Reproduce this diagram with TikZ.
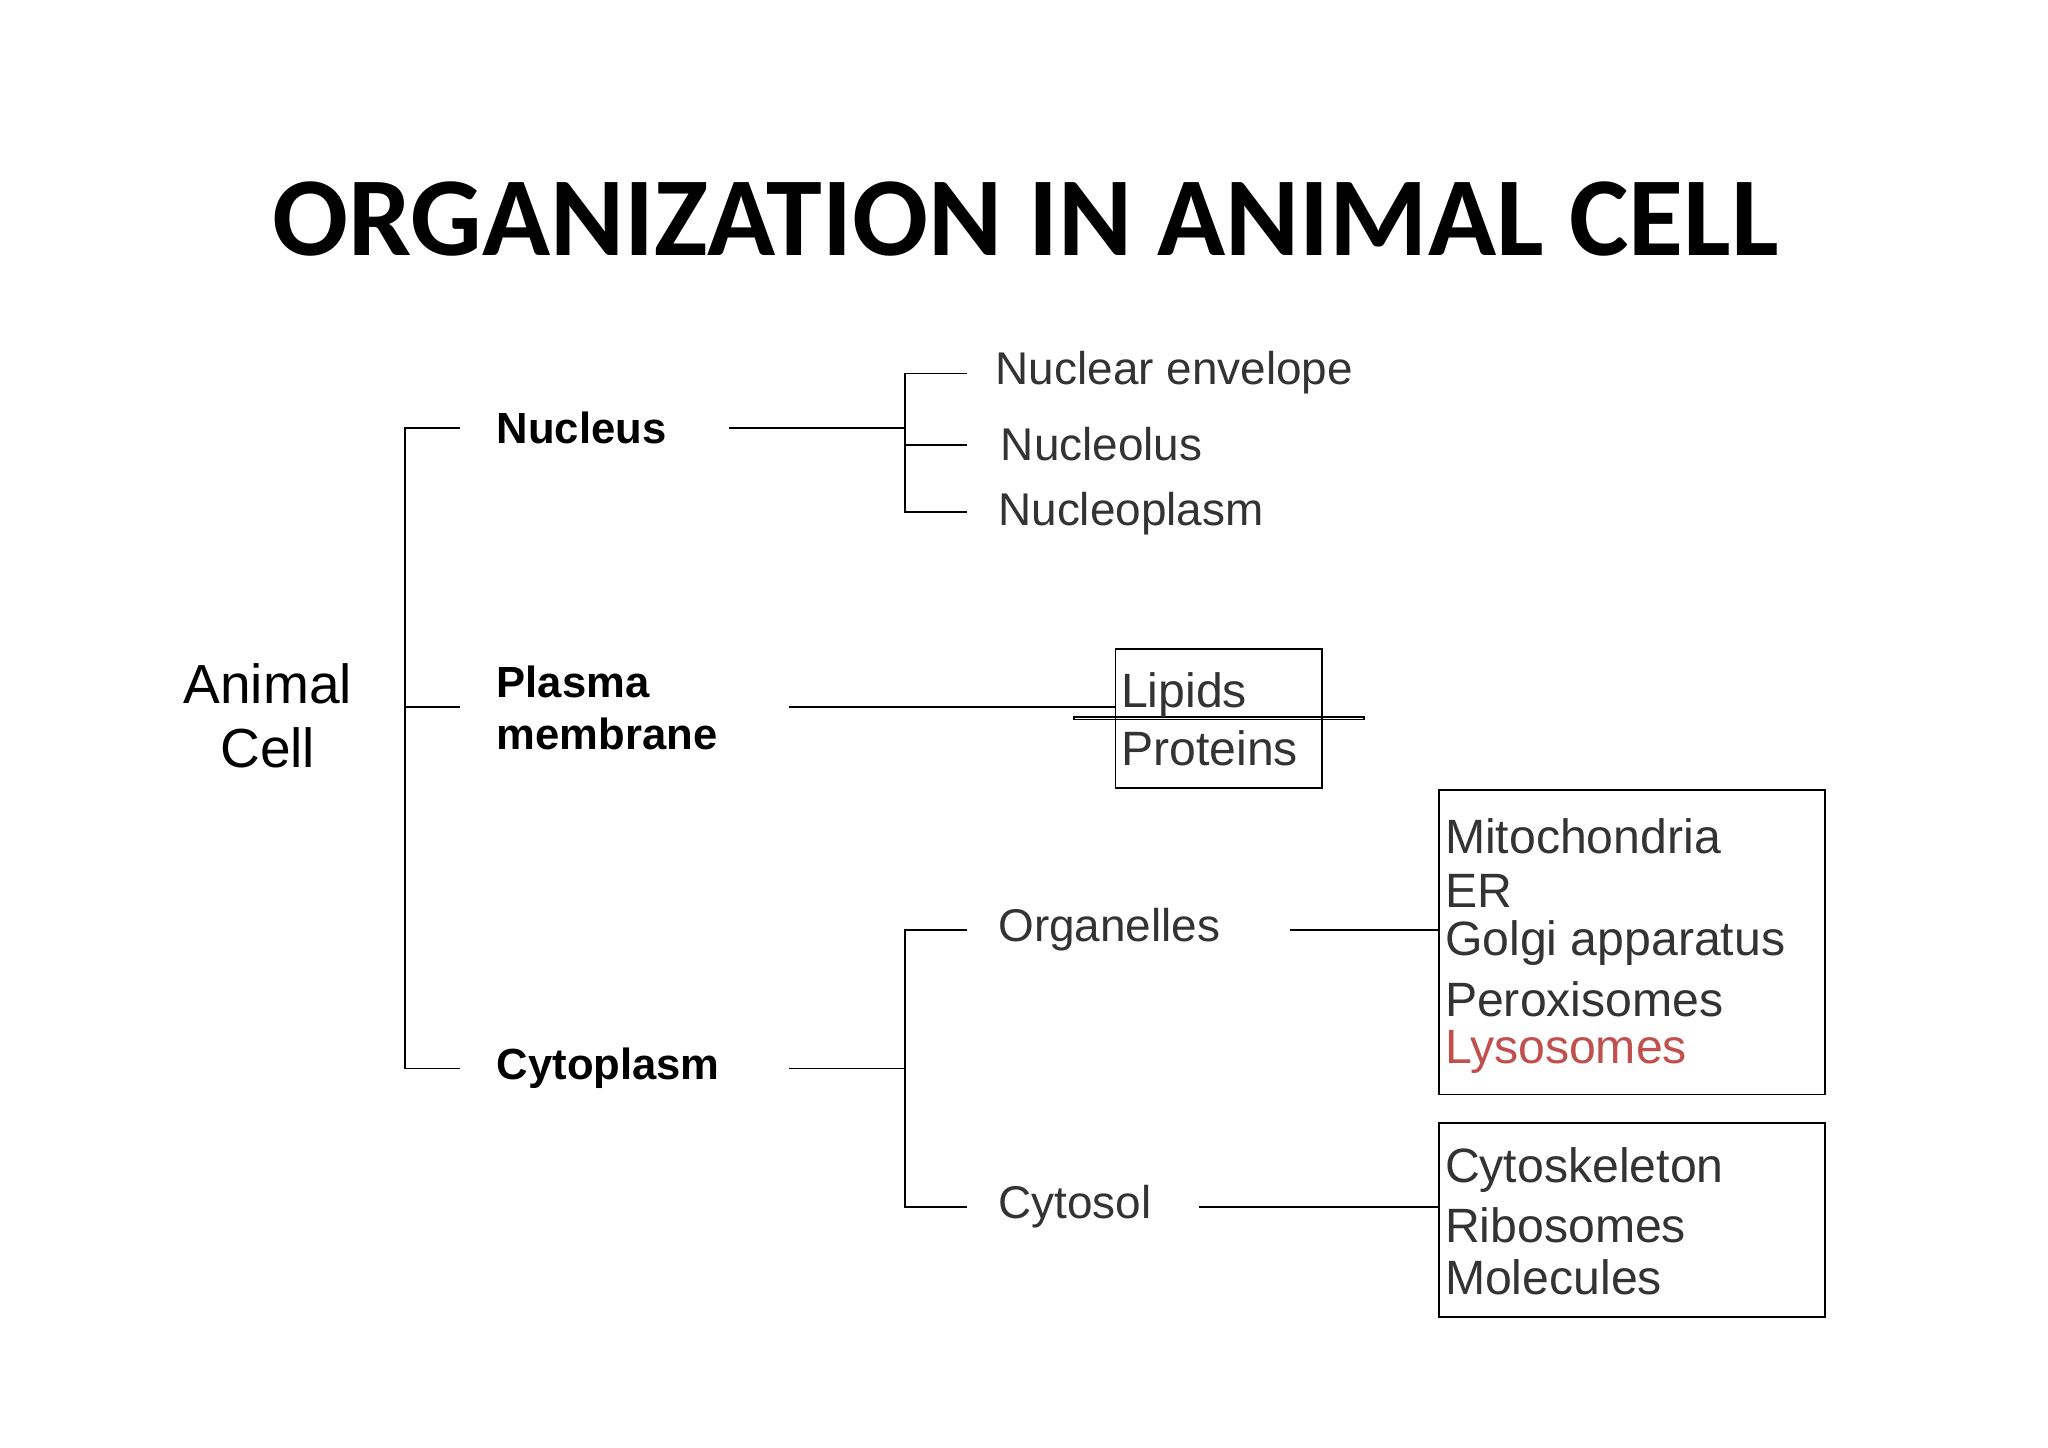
\documentclass[tikz,border=0pt]{standalone}
\usepackage{fontspec}
\setmainfont{Liberation Sans}
\newfontfamily\titlefont{Carlito}
\definecolor{lyso}{RGB}{192,80,77}
\begin{document}
\begin{tikzpicture}[x=0.02cm,y=-0.02cm,
  lbl/.style={anchor=west,inner sep=0pt,font=\fontsize{20}{22}\selectfont,text=black!80},
  blbl/.style={anchor=west,inner sep=0pt,font=\fontsize{19}{23}\selectfont\bfseries,align=left},
  bx/.style={draw,line width=0.8pt},
  ln/.style={line width=0.8pt}]
\useasboundingbox (0,0) rectangle (1568,1108);
\node (title) at (785,168) {\titlefont\bfseries\fontsize{49}{55}\selectfont ORGANIZATION IN ANIMAL CELL};
\node[align=center,font=\fontsize{24}{28}\selectfont,inner sep=0pt] (cell) at (205,548) {Animal\\Cell};
% level 1
\node[blbl] (nuc) at (380,328) {Nucleus};
\node[blbl] (pm) at (380,542) {Plasma\\membrane};
\node[blbl] (cyt) at (380,818) {Cytoplasm};
\coordinate (b1t) at (310,328); \coordinate (b1m) at (310,541); \coordinate (b1b) at (310,818);
\draw[ln] (352,328) -- (b1t) -- (b1b) -- (352,818);
\draw[ln] (b1m) -- (352,541);
% nucleus
\node[lbl] (ne) at (762,285) {Nuclear envelope};
\node[lbl] (nl) at (766,340) {Nucleolus};
\node[lbl] (np) at (764,393) {Nucleoplasm};
\coordinate (n1) at (693,286); \coordinate (n2) at (693,392);
\draw[ln] (558,328) -- (693,328);
\draw[ln] (740,286) -- (n1) -- (n2) -- (740,392);
\draw[ln] (693,341) -- (740,341);
% plasma
\node[bx,minimum width=158\pgflinewidth,inner sep=0pt] (pbox) at (933,550) {};
\draw[bx] (854,497) rectangle (1012,603);
\node[lbl,font=\fontsize{21}{23}\selectfont] (lip) at (858,532) {Lipids};
\node[lbl,font=\fontsize{21}{23}\selectfont] (pro) at (858,573) {Proteins};
\draw[ln] (604,541) -- (854,541);
% cytoplasm
\node[lbl] (org) at (764,712) {Organelles};
\node[lbl] (cso) at (764,924) {Cytosol};
\coordinate (c1) at (693,712); \coordinate (c2) at (693,924);
\draw[ln] (604,818) -- (693,818);
\draw[ln] (740,712) -- (c1) -- (c2) -- (740,924);
\draw[bx] (1102,605) rectangle (1397,838);
\draw[bx] (1102,860) rectangle (1397,1008);
\draw[ln] (988,712) -- (1102,712);
\draw[ln] (918,924) -- (1102,924);
\foreach \t/\y/\n in {Mitochondria/640/o1,ER/682/o2,Golgi apparatus/722/o3,Peroxisomes/765/o4}
  \node[lbl,font=\fontsize{21}{23}\selectfont] (\n) at (1106,\y) {\t};
\node[lbl,font=\fontsize{21}{23}\selectfont,text=lyso] (o5) at (1106,805) {Lysosomes};
\foreach \t/\y/\n in {Cytoskeleton/896/s1,Ribosomes/938/s2,Molecules/978/s3}
  \node[lbl,font=\fontsize{21}{23}\selectfont] (\n) at (1106,\y) {\t};
\end{tikzpicture}
\end{document}
